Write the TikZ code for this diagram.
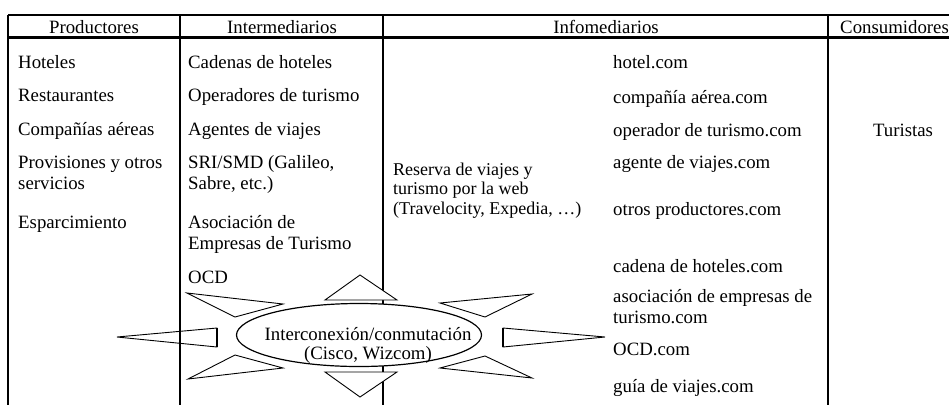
\documentclass[tikz,border=0pt]{standalone}
\usepackage{fontspec}
\setmainfont{Liberation Serif}
\usetikzlibrary{shapes.geometric}
\pgfdeclarelayer{background}
\pgfdeclarelayer{foreground}
\pgfsetlayers{background,main,foreground}

\begin{document}
\begin{tikzpicture}[x=1pt,y=-1pt,
  cell/.style={anchor=base west,inner sep=0pt,align=left,font=\fontsize{18.8}{20.5}\selectfont},
  head/.style={anchor=base,inner sep=0pt,font=\fontsize{18.8}{20.5}\selectfont},
  rule/.style={line width=1.2pt},
  spike/.style={draw,line width=0.9pt,line join=miter}]
\useasboundingbox (0,0) rectangle (949,405);
\begin{pgfonlayer}{background}
\draw[rule] (8,15) -- (949,15);
\draw[line width=3pt] (8,37) -- (949,37);
\draw[rule] (8,15) -- (8,405);
\draw[rule] (180,15) -- (180,405);
\draw[rule] (383,15) -- (383,405);
\draw[rule] (828,15) -- (828,405);
\end{pgfonlayer}
% headers
\node[head] (hprod) at (94,33) {Productores};
\node[head] (hinter) at (282,33) {Intermediarios};
\node[head] (hinfo) at (606,33) {Infomediarios};
\node[head,anchor=base west] (hcons) at (840,33) {Consumidores};
% productores (base = last line)
\node[cell] (hoteles) at (18,68) {Hoteles};
\node[cell] (rest) at (18,101) {Restaurantes};
\node[cell] (aereas) at (18,135) {Compañías aéreas};
\node[cell] (prov) at (18,189) {Provisiones y otros\\servicios};
\node[cell] (esparc) at (18,228) {Esparcimiento};
% intermediarios
\node[cell] (cadenas) at (188,68) {Cadenas de hoteles};
\node[cell] (operad) at (188,101) {Operadores de turismo};
\node[cell] (agentes) at (188,135) {Agentes de viajes};
\node[cell] (sri) at (188,189) {SRI/SMD (Galileo,\\Sabre, etc.)};
\node[cell] (asoc) at (188,249) {Asociación de\\Empresas de Turismo};
\node[cell] (ocd) at (188,283) {OCD};
% infomediarios
\node[cell,font=\fontsize{18}{19.5}\selectfont] (reserva) at (393,214) {Reserva de viajes y\\turismo por la web\\(Travelocity, Expedia, …)};
\node[cell] (hotelcom) at (613,68) {hotel.com};
\node[cell] (aereacom) at (613,103) {compañía aérea.com};
\node[cell] (opercom) at (613,136) {operador de turismo.com};
\node[cell] (agentecom) at (613,168) {agente de viajes.com};
\node[cell] (otroscom) at (613,215) {otros productores.com};
\node[cell] (cadenacom) at (613,272) {cadena de hoteles.com};
\node[cell] (asoccom) at (613,323) {asociación de empresas de\\turismo.com};
\node[cell] (ocdcom) at (613,355) {OCD.com};
\node[cell] (guiacom) at (613,392) {guía de viajes.com};
% consumidores
\node[head] (turistas) at (903,136) {Turistas};
% estrella
\begin{pgfonlayer}{foreground}
\draw[spike,fill=white] (360,275) -- (325,300) -- (397,300) -- cycle;
\draw[spike,fill=white] (325,372) -- (397,372) -- (360,397) -- cycle;
\draw[spike] (117,337) -- (217,328) -- (217,347) -- cycle;
\draw[spike] (605,337) -- (503,328) -- (503,347) -- cycle;
\draw[line width=2.4pt] (217,328) -- (217,347);
\draw[line width=2.4pt] (503,328) -- (503,347);
\draw[spike] (187,293) -- (283,304) -- (235,317) -- cycle;
\draw[spike] (188,379) -- (283,368) -- (235,355) -- cycle;
\draw[spike] (532,294) -- (440,303) -- (485,317) -- cycle;
\draw[spike] (532,378) -- (440,368) -- (485,356) -- cycle;
\node[ellipse,draw,fill=white,line width=1.2pt,minimum width=245pt,minimum height=63pt,inner sep=0pt] (hub) at (359,335) {};
\node[inner sep=0pt,align=center,font=\fontsize{18.8}{19}\selectfont] (hublabel) at (368,345) {Interconexión/conmutación\\(Cisco, Wizcom)};
\end{pgfonlayer}
\end{tikzpicture}
\end{document}
